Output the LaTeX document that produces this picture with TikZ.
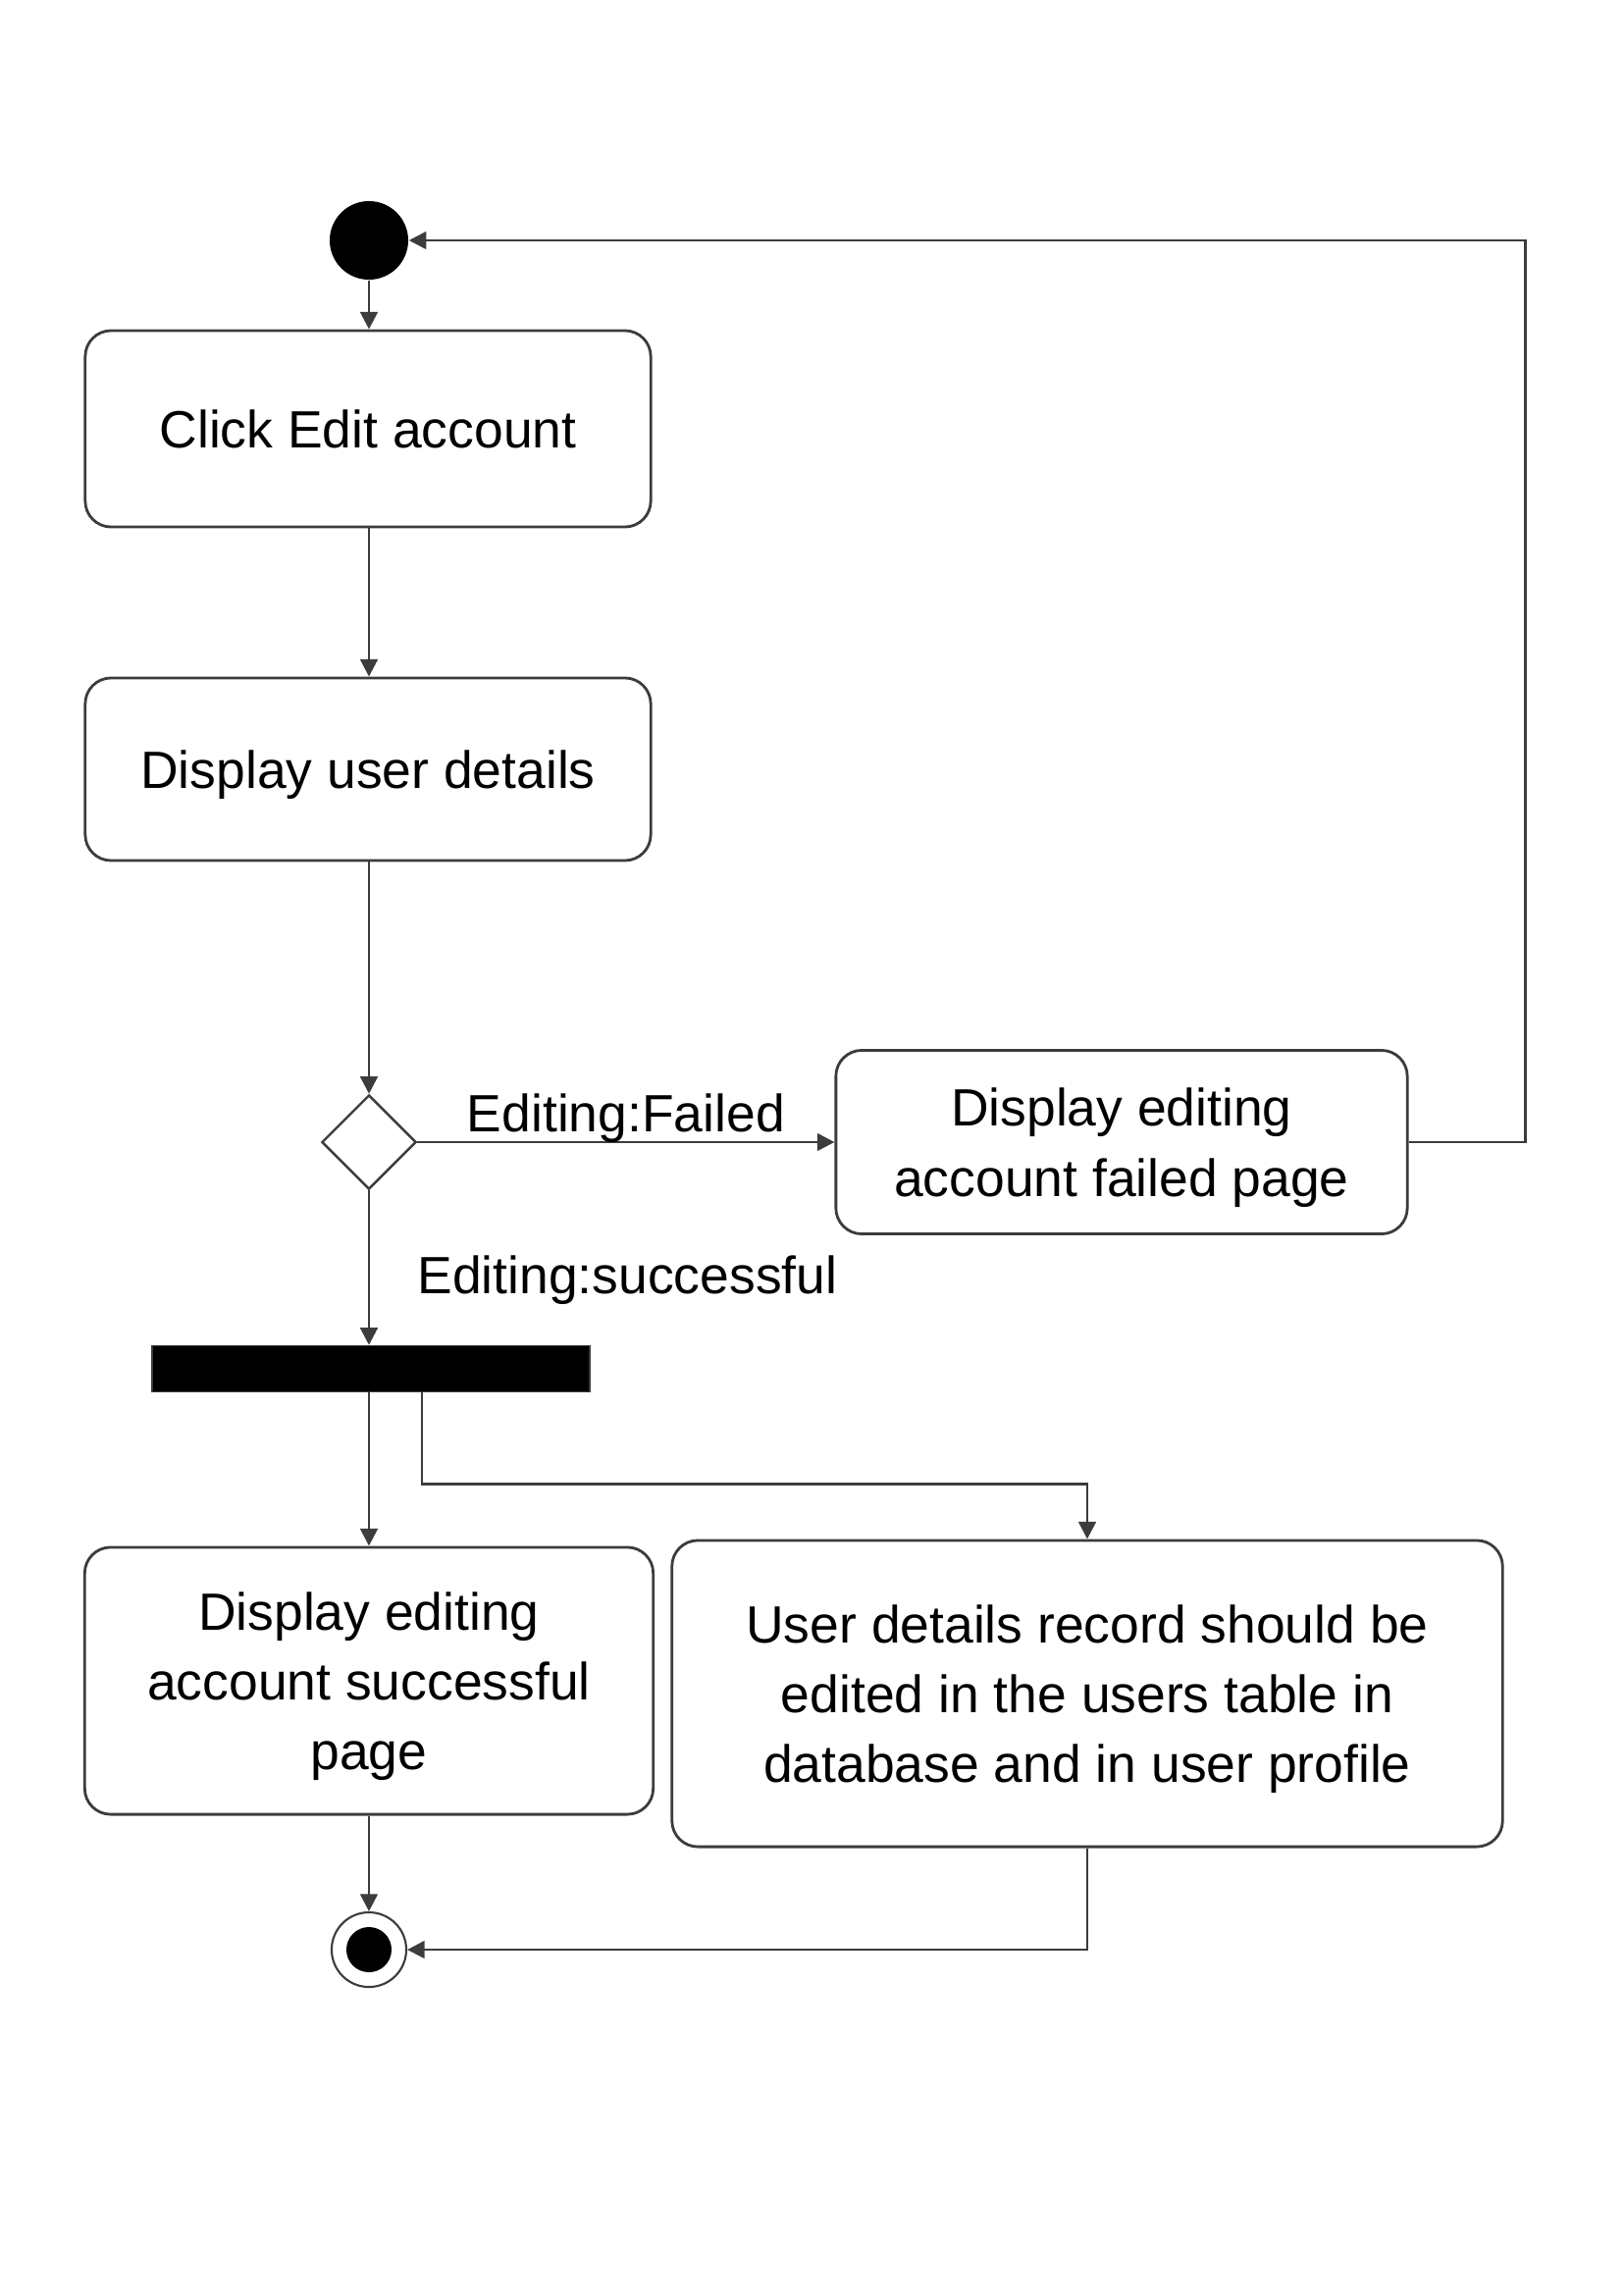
\documentclass[tikz,border=0pt]{standalone}
\usepackage{fontspec}
\setmainfont{Liberation Sans}
\usetikzlibrary{shapes.geometric,arrows.meta}
\definecolor{trait}{HTML}{3C3C3C}
\begin{document}
\begin{tikzpicture}[x=0.01cm,y=-0.01cm]
	\tikzstyle{fleche}=[-{Triangle[length=5pt,width=5pt]},line width=0.8pt,draw=trait]
	\tikzstyle{activite}=[draw=trait,line width=0.8pt,fill=white,rounded corners=7.5pt,inner sep=0pt,align=center,text depth=0pt,font=\fontsize{15.2}{20.3}\selectfont]
	\tikzstyle{decision}=[diamond,draw=trait,line width=0.7pt,fill=white,inner sep=0pt,minimum width=0.96cm,minimum height=0.96cm]
	\tikzstyle{barre}=[rectangle,fill=black,draw=trait,inner sep=0pt,minimum width=4.46cm,minimum height=0.47cm]
	\tikzstyle{debut}=[circle,fill=black,inner sep=0pt,minimum size=0.8cm]
	\tikzstyle{fin}=[circle,draw=trait,line width=0.6pt,fill=white,inner sep=0pt,minimum size=0.76cm,
		path picture={\fill[black] (path picture bounding box.center) circle (0.23cm);}]
	\tikzstyle{etiquette}=[inner sep=0pt,font=\fontsize{15.2}{20.3}\selectfont]
	
	\def\Colonne{376}
	
	\useasboundingbox (0,0) rectangle (1655,2340);
	
	\node[debut] (D) at (\Colonne,245) {};
	\node[activite,minimum width=5.76cm,minimum height=2cm] (A1) at (375,437) {Click Edit account};
	\node[activite,minimum width=5.76cm,minimum height=1.86cm] (A2) at (375,784) {Display user details};
	\node[decision] (C) at (\Colonne,1164) {};
	\node[activite,minimum width=5.82cm,minimum height=1.87cm] (E) at (1143,1164) {Display editing\\account failed page};
	\node[barre] (B) at (378,1395) {};
	\node[activite,minimum width=5.79cm,minimum height=2.72cm] (S) at (376,1713) {Display editing\\account successful\\page};
	\node[activite,minimum width=8.46cm,minimum height=3.12cm] (R) at (1108,1726) {User details record should be\\edited in the users table in\\database and in user profile};
	\node[fin] (F) at (\Colonne,1987) {};
	
	\draw[fleche] (D) -- (D |- A1.north);
	\draw[fleche] (A1.south -| D) -- (A2.north -| D);
	\draw[fleche] (A2.south -| D) -- (C.north);
	\draw[fleche] (C.east) -- (E.west) node[etiquette,midway,above=-0.5pt] {Editing:Failed};
	\draw[fleche] (E.east) -- ++(119,0) |- (D.east);
	\draw[fleche] (C.south) -- (C.south |- B.north) node[etiquette,pos=0.58,right=0.48cm] {Editing:successful};
	\draw[fleche] (B.south -| C) -- (S.north -| C);
	\draw[fleche] ([xshift=0.52cm]B.south) -- ++(0,93) -| (R.north);
	\draw[fleche] (S.south -| C) -- (F.north);
	\draw[fleche] (R.south) |- (F.east);
\end{tikzpicture}
\end{document}
